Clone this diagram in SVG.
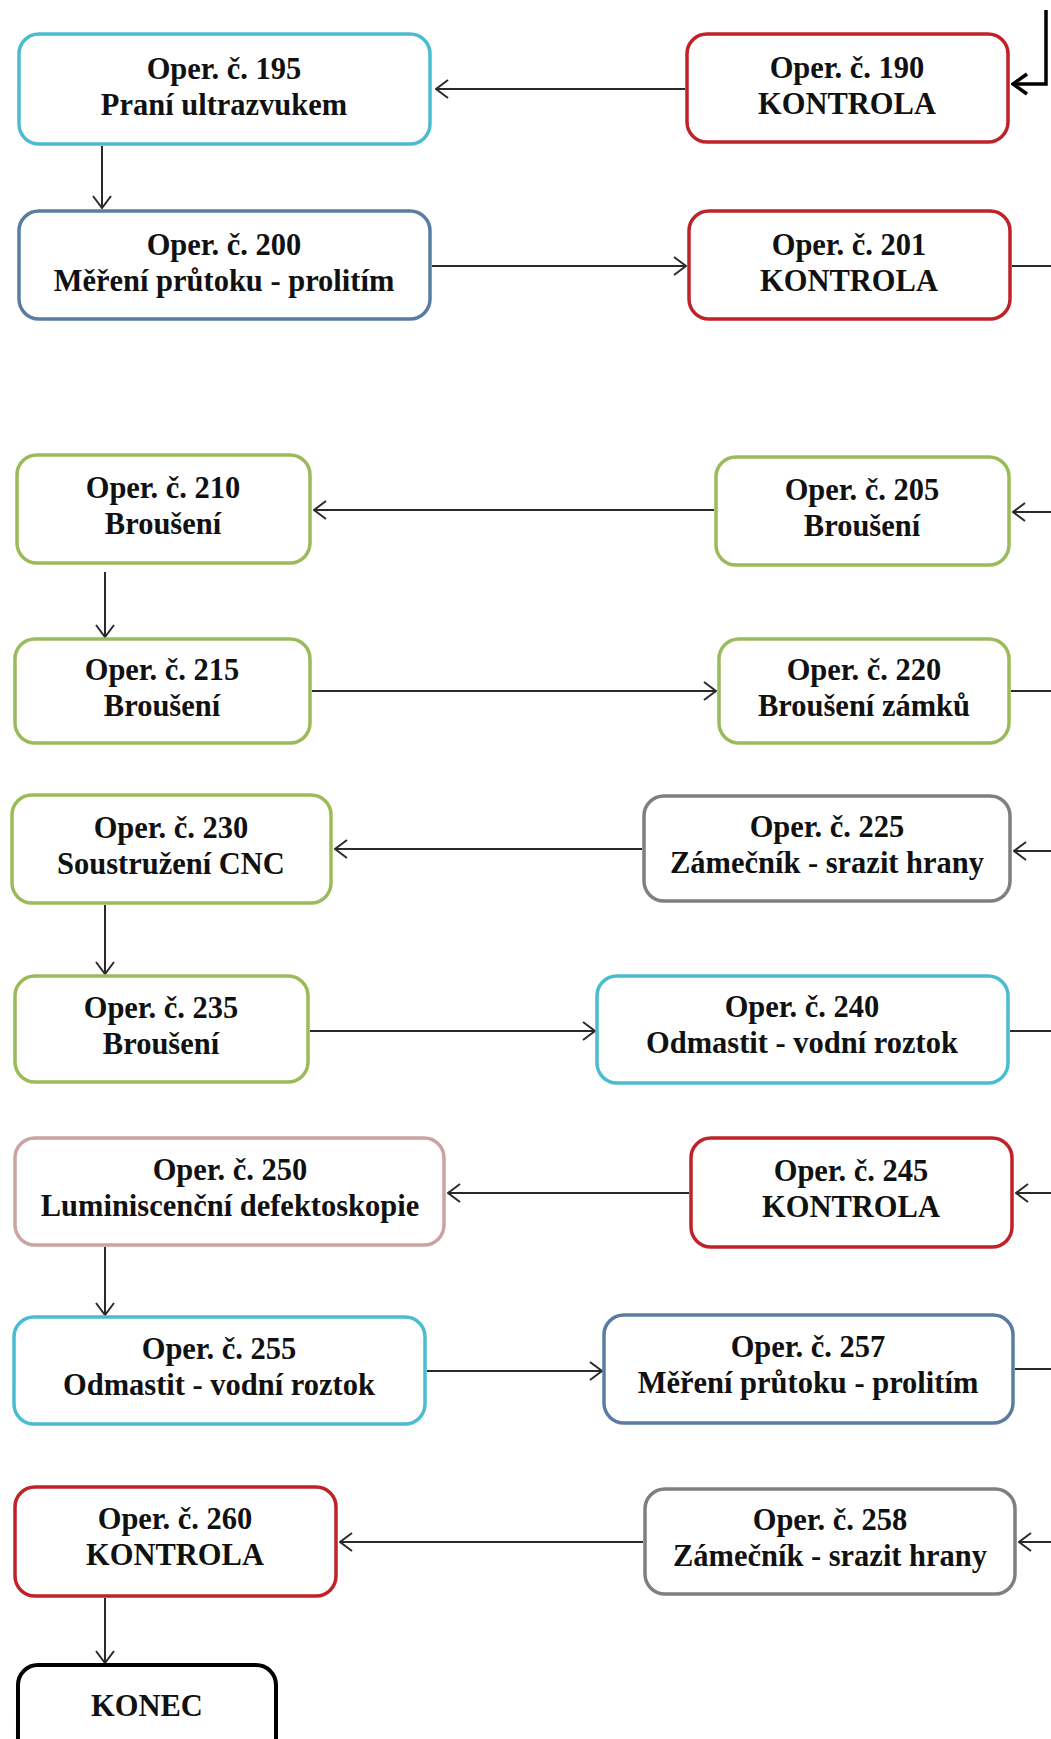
<svg xmlns="http://www.w3.org/2000/svg" width="1051" height="1739" viewBox="0 0 1051 1739">
<style>
.box{fill:#fff;stroke-width:3.5}
.red{stroke:#bd2329}
.cyan{stroke:#4bbcd0}
.blue{stroke:#5a7ca3}
.green{stroke:#9bbb59}
.gray{stroke:#7f7f7f}
.pink{stroke:#caa3a3}
.black{stroke:#000}
text{font-family:"Liberation Serif","Times New Roman",serif;font-weight:bold;font-size:30.5px;fill:#111;text-anchor:middle}
.conn{fill:none;stroke:#2a2a2a;stroke-width:2}
.thick{fill:none;stroke:#000;stroke-width:3.5}
</style>
<defs>
<marker id="ah" viewBox="0 0 14 20" refX="13" refY="10" markerWidth="14" markerHeight="20" orient="auto" markerUnits="userSpaceOnUse">
<path d="M1,1 L13,10 L1,19" fill="none" stroke="#2a2a2a" stroke-width="2"/>
</marker>
<marker id="ahb" viewBox="0 0 18 24" refX="16" refY="12" markerWidth="18" markerHeight="24" orient="auto" markerUnits="userSpaceOnUse">
<path d="M2,2 L16,12 L2,22" fill="none" stroke="#000" stroke-width="3.5"/>
</marker>
</defs>
<rect width="1051" height="1739" fill="#fff"/>
<g id="connectors">
<path class="thick" d="M1046,10 V84 H1013" marker-end="url(#ahb)"/>
<path class="conn" d="M685,89 H436" marker-end="url(#ah)"/>
<path class="conn" d="M102,146 V208" marker-end="url(#ah)"/>
<path class="conn" d="M432,266 H686" marker-end="url(#ah)"/>
<path class="conn" d="M1012,266 H1051"/>
<path class="conn" d="M1051,512 H1013" marker-end="url(#ah)"/>
<path class="conn" d="M714,510 H314" marker-end="url(#ah)"/>
<path class="conn" d="M105,572 V637" marker-end="url(#ah)"/>
<path class="conn" d="M312,691 H716" marker-end="url(#ah)"/>
<path class="conn" d="M1011,691 H1051"/>
<path class="conn" d="M1051,851 H1014" marker-end="url(#ah)"/>
<path class="conn" d="M642,849 H335" marker-end="url(#ah)"/>
<path class="conn" d="M105,905 V974" marker-end="url(#ah)"/>
<path class="conn" d="M310,1031 H595" marker-end="url(#ah)"/>
<path class="conn" d="M1010,1031 H1051"/>
<path class="conn" d="M1051,1193 H1016" marker-end="url(#ah)"/>
<path class="conn" d="M689,1193 H448" marker-end="url(#ah)"/>
<path class="conn" d="M105,1247 V1315" marker-end="url(#ah)"/>
<path class="conn" d="M427,1371 H602" marker-end="url(#ah)"/>
<path class="conn" d="M1015,1369 H1051"/>
<path class="conn" d="M1051,1542 H1019" marker-end="url(#ah)"/>
<path class="conn" d="M643,1542 H340" marker-end="url(#ah)"/>
<path class="conn" d="M105,1598 V1663" marker-end="url(#ah)"/>
</g>
<g id="n190"><rect class="box red" x="687" y="34" width="321" height="108" rx="20"/><text transform="matrix(1 0 0 1.06 0 78)" x="847" y="0">Oper. č. 190</text><text transform="matrix(1 0 0 1.06 0 114)" x="847" y="0">KONTROLA</text></g>
<g id="n195"><rect class="box cyan" x="19" y="34" width="411" height="110" rx="20"/><text transform="matrix(1 0 0 1.06 0 79)" x="224" y="0">Oper. č. 195</text><text transform="matrix(1 0 0 1.06 0 115)" x="224" y="0">Praní ultrazvukem</text></g>
<g id="n200"><rect class="box blue" x="19" y="211" width="411" height="108" rx="20"/><text transform="matrix(1 0 0 1.06 0 255)" x="224" y="0">Oper. č. 200</text><text transform="matrix(1 0 0 1.06 0 291)" x="224" y="0">Měření průtoku - prolitím</text></g>
<g id="n201"><rect class="box red" x="689" y="211" width="321" height="108" rx="20"/><text transform="matrix(1 0 0 1.06 0 255)" x="849" y="0">Oper. č. 201</text><text transform="matrix(1 0 0 1.06 0 291)" x="849" y="0">KONTROLA</text></g>
<g id="n205"><rect class="box green" x="716" y="457" width="293" height="108" rx="20"/><text transform="matrix(1 0 0 1.06 0 500)" x="862" y="0">Oper. č. 205</text><text transform="matrix(1 0 0 1.06 0 536)" x="862" y="0">Broušení</text></g>
<g id="n210"><rect class="box green" x="17" y="455" width="293" height="108" rx="20"/><text transform="matrix(1 0 0 1.06 0 498)" x="163" y="0">Oper. č. 210</text><text transform="matrix(1 0 0 1.06 0 534)" x="163" y="0">Broušení</text></g>
<g id="n215"><rect class="box green" x="15" y="639" width="295" height="104" rx="20"/><text transform="matrix(1 0 0 1.06 0 680)" x="162" y="0">Oper. č. 215</text><text transform="matrix(1 0 0 1.06 0 716)" x="162" y="0">Broušení</text></g>
<g id="n220"><rect class="box green" x="719" y="639" width="290" height="104" rx="20"/><text transform="matrix(1 0 0 1.06 0 680)" x="864" y="0">Oper. č. 220</text><text transform="matrix(1 0 0 1.06 0 716)" x="864" y="0">Broušení zámků</text></g>
<g id="n225"><rect class="box gray" x="644" y="796" width="366" height="105" rx="20"/><text transform="matrix(1 0 0 1.06 0 837)" x="827" y="0">Oper. č. 225</text><text transform="matrix(1 0 0 1.06 0 873)" x="827" y="0">Zámečník - srazit hrany</text></g>
<g id="n230"><rect class="box green" x="12" y="795" width="319" height="108" rx="20"/><text transform="matrix(1 0 0 1.06 0 838)" x="171" y="0">Oper. č. 230</text><text transform="matrix(1 0 0 1.06 0 874)" x="171" y="0">Soustružení CNC</text></g>
<g id="n235"><rect class="box green" x="15" y="976" width="293" height="106" rx="20"/><text transform="matrix(1 0 0 1.06 0 1018)" x="161" y="0">Oper. č. 235</text><text transform="matrix(1 0 0 1.06 0 1054)" x="161" y="0">Broušení</text></g>
<g id="n240"><rect class="box cyan" x="597" y="976" width="411" height="107" rx="20"/><text transform="matrix(1 0 0 1.06 0 1017)" x="802" y="0">Oper. č. 240</text><text transform="matrix(1 0 0 1.06 0 1053)" x="802" y="0">Odmastit - vodní roztok</text></g>
<g id="n245"><rect class="box red" x="691" y="1138" width="321" height="109" rx="20"/><text transform="matrix(1 0 0 1.06 0 1181)" x="851" y="0">Oper. č. 245</text><text transform="matrix(1 0 0 1.06 0 1217)" x="851" y="0">KONTROLA</text></g>
<g id="n250"><rect class="box pink" x="15" y="1138" width="429" height="107" rx="20"/><text transform="matrix(1 0 0 1.06 0 1180)" x="230" y="0">Oper. č. 250</text><text transform="matrix(1 0 0 1.06 0 1216)" x="230" y="0">Luminiscenční defektoskopie</text></g>
<g id="n255"><rect class="box cyan" x="14" y="1317" width="411" height="107" rx="20"/><text transform="matrix(1 0 0 1.06 0 1359)" x="219" y="0">Oper. č. 255</text><text transform="matrix(1 0 0 1.06 0 1395)" x="219" y="0">Odmastit - vodní roztok</text></g>
<g id="n257"><rect class="box blue" x="604" y="1315" width="409" height="108" rx="20"/><text transform="matrix(1 0 0 1.06 0 1357)" x="808" y="0">Oper. č. 257</text><text transform="matrix(1 0 0 1.06 0 1393)" x="808" y="0">Měření průtoku - prolitím</text></g>
<g id="n258"><rect class="box gray" x="645" y="1489" width="370" height="105" rx="20"/><text transform="matrix(1 0 0 1.06 0 1530)" x="830" y="0">Oper. č. 258</text><text transform="matrix(1 0 0 1.06 0 1566)" x="830" y="0">Zámečník - srazit hrany</text></g>
<g id="n260"><rect class="box red" x="15" y="1487" width="321" height="109" rx="20"/><text transform="matrix(1 0 0 1.06 0 1529)" x="175" y="0">Oper. č. 260</text><text transform="matrix(1 0 0 1.06 0 1565)" x="175" y="0">KONTROLA</text></g>
<g id="konec"><rect class="box black" x="18" y="1665" width="258" height="110" rx="20" style="stroke-width:4"/><text transform="matrix(1 0 0 1.06 0 1716)" x="147" y="0">KONEC</text></g>
</svg>
